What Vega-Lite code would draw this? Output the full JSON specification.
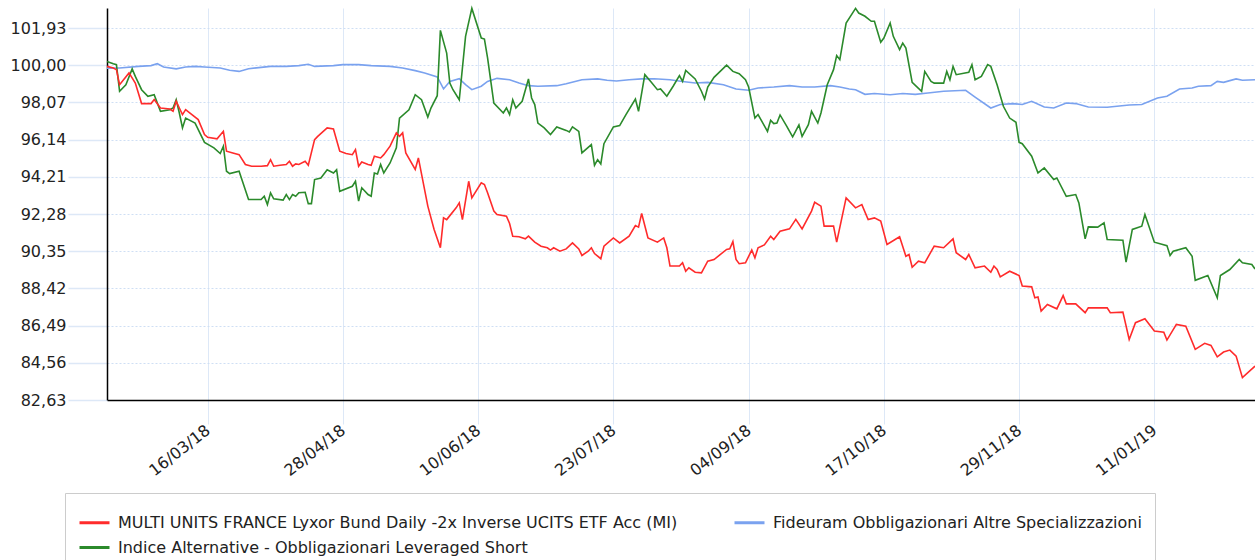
{
"$schema":"https://vega.github.io/schema/vega-lite/v6.json",
"width":1148,"height":392,
"autosize":{"type":"none"},
"padding":{"left":107,"top":8,"right":0,"bottom":160},
"background":"white",
"config":{"view":{"stroke":null},"font":"DejaVu Sans"},
"datasets":{
"r":[
{"d":"2018-02-12","v":99.94},{"d":"2018-02-14","v":99.86},{"d":"2018-02-15","v":99.77},{"d":"2018-02-16","v":98.99},{"d":"2018-02-19","v":99.60},{"d":"2018-02-21","v":99.08},{"d":"2018-02-23","v":98.01},{"d":"2018-02-26","v":98.01},{"d":"2018-02-27","v":98.22},{"d":"2018-03-01","v":97.78},{"d":"2018-03-04","v":97.73},{"d":"2018-03-05","v":97.61},{"d":"2018-03-06","v":98.13},{"d":"2018-03-07","v":97.78},{"d":"2018-03-08","v":97.44},{"d":"2018-03-09","v":97.70},{"d":"2018-03-11","v":97.44},{"d":"2018-03-13","v":97.18},{"d":"2018-03-15","v":96.40},{"d":"2018-03-16","v":96.26},{"d":"2018-03-19","v":96.18},{"d":"2018-03-21","v":96.57},{"d":"2018-03-22","v":95.54},{"d":"2018-03-24","v":95.45},{"d":"2018-03-26","v":95.36},{"d":"2018-03-28","v":94.85},{"d":"2018-03-30","v":94.76},{"d":"2018-04-02","v":94.76},{"d":"2018-04-04","v":94.79},{"d":"2018-04-05","v":95.10},{"d":"2018-04-06","v":94.76},{"d":"2018-04-08","v":94.81},{"d":"2018-04-10","v":94.85},{"d":"2018-04-11","v":95.02},{"d":"2018-04-12","v":94.76},{"d":"2018-04-13","v":94.88},{"d":"2018-04-14","v":94.85},{"d":"2018-04-16","v":95.02},{"d":"2018-04-17","v":94.81},{"d":"2018-04-19","v":96.14},{"d":"2018-04-20","v":96.31},{"d":"2018-04-23","v":96.75},{"d":"2018-04-25","v":96.69},{"d":"2018-04-27","v":95.54},{"d":"2018-04-29","v":95.42},{"d":"2018-05-01","v":95.36},{"d":"2018-05-02","v":95.62},{"d":"2018-05-03","v":94.76},{"d":"2018-05-04","v":94.98},{"d":"2018-05-06","v":94.85},{"d":"2018-05-07","v":94.81},{"d":"2018-05-08","v":95.28},{"d":"2018-05-10","v":95.19},{"d":"2018-05-11","v":95.36},{"d":"2018-05-13","v":95.80},{"d":"2018-05-15","v":96.49},{"d":"2018-05-16","v":96.31},{"d":"2018-05-17","v":96.49},{"d":"2018-05-18","v":95.45},{"d":"2018-05-21","v":94.59},{"d":"2018-05-22","v":95.19},{"d":"2018-05-25","v":92.69},{"d":"2018-05-27","v":91.48},{"d":"2018-05-29","v":90.53},{"d":"2018-05-30","v":92.08},{"d":"2018-05-31","v":91.99},{"d":"2018-06-03","v":92.60},{"d":"2018-06-04","v":92.86},{"d":"2018-06-05","v":91.99},{"d":"2018-06-07","v":93.98},{"d":"2018-06-08","v":93.12},{"d":"2018-06-11","v":93.90},{"d":"2018-06-12","v":93.81},{"d":"2018-06-13","v":93.38},{"d":"2018-06-15","v":92.43},{"d":"2018-06-16","v":92.25},{"d":"2018-06-19","v":92.17},{"d":"2018-06-20","v":91.79},{"d":"2018-06-21","v":91.13},{"d":"2018-06-23","v":91.10},{"d":"2018-06-25","v":90.99},{"d":"2018-06-26","v":91.13},{"d":"2018-06-28","v":90.82},{"d":"2018-06-30","v":90.61},{"d":"2018-07-02","v":90.53},{"d":"2018-07-03","v":90.41},{"d":"2018-07-04","v":90.53},{"d":"2018-07-06","v":90.35},{"d":"2018-07-08","v":90.47},{"d":"2018-07-10","v":90.78},{"d":"2018-07-12","v":90.47},{"d":"2018-07-13","v":90.13},{"d":"2018-07-15","v":90.35},{"d":"2018-07-16","v":90.53},{"d":"2018-07-17","v":90.23},{"d":"2018-07-19","v":89.96},{"d":"2018-07-20","v":90.61},{"d":"2018-07-23","v":91.04},{"d":"2018-07-25","v":90.78},{"d":"2018-07-28","v":91.13},{"d":"2018-07-30","v":91.68},{"d":"2018-07-31","v":91.60},{"d":"2018-08-01","v":92.31},{"d":"2018-08-03","v":91.04},{"d":"2018-08-06","v":90.82},{"d":"2018-08-08","v":91.04},{"d":"2018-08-09","v":90.53},{"d":"2018-08-10","v":89.58},{"d":"2018-08-13","v":89.58},{"d":"2018-08-14","v":89.75},{"d":"2018-08-15","v":89.31},{"d":"2018-08-16","v":89.49},{"d":"2018-08-18","v":89.26},{"d":"2018-08-20","v":89.23},{"d":"2018-08-22","v":89.83},{"d":"2018-08-24","v":89.92},{"d":"2018-08-28","v":90.44},{"d":"2018-08-29","v":90.47},{"d":"2018-08-30","v":90.85},{"d":"2018-08-31","v":89.92},{"d":"2018-09-01","v":89.70},{"d":"2018-09-03","v":89.75},{"d":"2018-09-05","v":90.41},{"d":"2018-09-06","v":90.01},{"d":"2018-09-07","v":90.53},{"d":"2018-09-09","v":90.68},{"d":"2018-09-11","v":91.13},{"d":"2018-09-12","v":90.96},{"d":"2018-09-14","v":91.39},{"d":"2018-09-17","v":91.51},{"d":"2018-09-19","v":92.00},{"d":"2018-09-21","v":91.51},{"d":"2018-09-24","v":92.43},{"d":"2018-09-25","v":92.89},{"d":"2018-09-27","v":92.69},{"d":"2018-09-28","v":91.65},{"d":"2018-10-01","v":91.65},{"d":"2018-10-02","v":90.82},{"d":"2018-10-05","v":93.12},{"d":"2018-10-08","v":92.60},{"d":"2018-10-10","v":92.77},{"d":"2018-10-12","v":91.99},{"d":"2018-10-14","v":92.08},{"d":"2018-10-16","v":91.91},{"d":"2018-10-18","v":90.70},{"d":"2018-10-22","v":91.10},{"d":"2018-10-24","v":90.09},{"d":"2018-10-25","v":90.18},{"d":"2018-10-26","v":89.52},{"d":"2018-10-28","v":89.83},{"d":"2018-10-30","v":89.75},{"d":"2018-11-02","v":90.61},{"d":"2018-11-05","v":90.53},{"d":"2018-11-08","v":90.99},{"d":"2018-11-09","v":90.27},{"d":"2018-11-12","v":89.92},{"d":"2018-11-13","v":90.18},{"d":"2018-11-15","v":89.49},{"d":"2018-11-18","v":89.58},{"d":"2018-11-20","v":89.26},{"d":"2018-11-21","v":89.58},{"d":"2018-11-22","v":89.40},{"d":"2018-11-23","v":89.02},{"d":"2018-11-26","v":89.31},{"d":"2018-11-29","v":89.09},{"d":"2018-11-30","v":88.54},{"d":"2018-12-03","v":88.50},{"d":"2018-12-04","v":87.93},{"d":"2018-12-05","v":87.97},{"d":"2018-12-06","v":87.24},{"d":"2018-12-08","v":87.59},{"d":"2018-12-11","v":87.36},{"d":"2018-12-13","v":88.05},{"d":"2018-12-14","v":87.62},{"d":"2018-12-17","v":87.62},{"d":"2018-12-20","v":87.16},{"d":"2018-12-21","v":87.41},{"d":"2018-12-27","v":87.41},{"d":"2018-12-28","v":87.16},{"d":"2019-01-01","v":87.19},{"d":"2019-01-03","v":85.77},{"d":"2019-01-05","v":86.64},{"d":"2019-01-08","v":86.85},{"d":"2019-01-11","v":86.21},{"d":"2019-01-14","v":86.15},{"d":"2019-01-15","v":85.74},{"d":"2019-01-18","v":86.55},{"d":"2019-01-21","v":86.46},{"d":"2019-01-24","v":85.26},{"d":"2019-01-27","v":85.57},{"d":"2019-01-29","v":85.46},{"d":"2019-01-31","v":84.87},{"d":"2019-02-02","v":85.12},{"d":"2019-02-04","v":85.22},{"d":"2019-02-06","v":84.91},{"d":"2019-02-08","v":83.79},{"d":"2019-02-12","v":84.39}],
"g":[
{"d":"2018-02-12","v":100.20},{"d":"2018-02-14","v":100.08},{"d":"2018-02-15","v":100.03},{"d":"2018-02-16","v":98.65},{"d":"2018-02-18","v":98.99},{"d":"2018-02-20","v":99.81},{"d":"2018-02-21","v":99.42},{"d":"2018-02-23","v":98.73},{"d":"2018-02-25","v":98.39},{"d":"2018-02-27","v":98.47},{"d":"2018-03-01","v":97.61},{"d":"2018-03-04","v":97.69},{"d":"2018-03-05","v":97.78},{"d":"2018-03-06","v":98.21},{"d":"2018-03-07","v":97.52},{"d":"2018-03-08","v":96.75},{"d":"2018-03-09","v":97.26},{"d":"2018-03-12","v":97.00},{"d":"2018-03-15","v":96.00},{"d":"2018-03-18","v":95.71},{"d":"2018-03-20","v":95.42},{"d":"2018-03-21","v":95.80},{"d":"2018-03-22","v":94.50},{"d":"2018-03-23","v":94.38},{"d":"2018-03-26","v":94.50},{"d":"2018-03-29","v":93.03},{"d":"2018-04-02","v":93.03},{"d":"2018-04-03","v":93.20},{"d":"2018-04-04","v":92.77},{"d":"2018-04-05","v":93.38},{"d":"2018-04-06","v":93.07},{"d":"2018-04-09","v":93.00},{"d":"2018-04-10","v":93.29},{"d":"2018-04-11","v":93.03},{"d":"2018-04-12","v":93.29},{"d":"2018-04-13","v":93.20},{"d":"2018-04-14","v":93.38},{"d":"2018-04-16","v":93.41},{"d":"2018-04-17","v":92.82},{"d":"2018-04-18","v":92.82},{"d":"2018-04-19","v":94.07},{"d":"2018-04-21","v":94.15},{"d":"2018-04-23","v":94.58},{"d":"2018-04-25","v":94.41},{"d":"2018-04-26","v":94.58},{"d":"2018-04-27","v":93.46},{"d":"2018-05-01","v":93.72},{"d":"2018-05-02","v":93.98},{"d":"2018-05-03","v":92.95},{"d":"2018-05-04","v":93.64},{"d":"2018-05-06","v":93.29},{"d":"2018-05-07","v":93.20},{"d":"2018-05-08","v":94.41},{"d":"2018-05-09","v":94.36},{"d":"2018-05-10","v":94.85},{"d":"2018-05-11","v":94.41},{"d":"2018-05-13","v":94.93},{"d":"2018-05-15","v":95.71},{"d":"2018-05-16","v":97.26},{"d":"2018-05-19","v":97.69},{"d":"2018-05-21","v":98.47},{"d":"2018-05-23","v":98.21},{"d":"2018-05-25","v":97.31},{"d":"2018-05-26","v":97.78},{"d":"2018-05-28","v":98.42},{"d":"2018-05-29","v":101.81},{"d":"2018-05-31","v":100.63},{"d":"2018-06-01","v":99.08},{"d":"2018-06-02","v":98.73},{"d":"2018-06-04","v":98.21},{"d":"2018-06-06","v":101.50},{"d":"2018-06-08","v":102.95},{"d":"2018-06-11","v":101.41},{"d":"2018-06-12","v":101.36},{"d":"2018-06-13","v":100.38},{"d":"2018-06-15","v":98.04},{"d":"2018-06-18","v":97.52},{"d":"2018-06-19","v":97.78},{"d":"2018-06-20","v":97.44},{"d":"2018-06-21","v":98.21},{"d":"2018-06-22","v":97.78},{"d":"2018-06-24","v":98.13},{"d":"2018-06-26","v":99.29},{"d":"2018-06-27","v":98.30},{"d":"2018-06-28","v":97.96},{"d":"2018-06-29","v":97.00},{"d":"2018-07-01","v":96.75},{"d":"2018-07-03","v":96.40},{"d":"2018-07-05","v":96.80},{"d":"2018-07-08","v":96.62},{"d":"2018-07-09","v":96.54},{"d":"2018-07-10","v":96.80},{"d":"2018-07-12","v":96.57},{"d":"2018-07-13","v":95.45},{"d":"2018-07-16","v":95.88},{"d":"2018-07-17","v":94.81},{"d":"2018-07-18","v":95.10},{"d":"2018-07-19","v":94.88},{"d":"2018-07-20","v":95.93},{"d":"2018-07-23","v":96.80},{"d":"2018-07-25","v":96.87},{"d":"2018-07-27","v":97.44},{"d":"2018-07-30","v":98.25},{"d":"2018-07-31","v":97.61},{"d":"2018-08-02","v":99.51},{"d":"2018-08-04","v":99.13},{"d":"2018-08-06","v":98.73},{"d":"2018-08-07","v":98.77},{"d":"2018-08-09","v":98.39},{"d":"2018-08-11","v":98.91},{"d":"2018-08-13","v":99.46},{"d":"2018-08-14","v":99.16},{"d":"2018-08-15","v":99.73},{"d":"2018-08-18","v":99.29},{"d":"2018-08-20","v":98.65},{"d":"2018-08-21","v":98.25},{"d":"2018-08-22","v":98.87},{"d":"2018-08-24","v":99.37},{"d":"2018-08-28","v":100.00},{"d":"2018-08-30","v":99.68},{"d":"2018-09-01","v":99.56},{"d":"2018-09-03","v":99.25},{"d":"2018-09-04","v":98.87},{"d":"2018-09-06","v":97.26},{"d":"2018-09-07","v":97.44},{"d":"2018-09-10","v":96.57},{"d":"2018-09-11","v":97.14},{"d":"2018-09-12","v":96.97},{"d":"2018-09-13","v":97.00},{"d":"2018-09-14","v":97.42},{"d":"2018-09-16","v":96.87},{"d":"2018-09-18","v":96.28},{"d":"2018-09-20","v":96.90},{"d":"2018-09-21","v":96.31},{"d":"2018-09-23","v":96.92},{"d":"2018-09-24","v":97.61},{"d":"2018-09-26","v":97.00},{"d":"2018-09-27","v":97.52},{"d":"2018-09-29","v":98.99},{"d":"2018-10-01","v":99.77},{"d":"2018-10-02","v":100.50},{"d":"2018-10-03","v":100.29},{"d":"2018-10-05","v":102.19},{"d":"2018-10-08","v":102.95},{"d":"2018-10-09","v":102.71},{"d":"2018-10-11","v":102.54},{"d":"2018-10-13","v":102.28},{"d":"2018-10-14","v":102.28},{"d":"2018-10-16","v":101.19},{"d":"2018-10-17","v":101.41},{"d":"2018-10-19","v":102.19},{"d":"2018-10-20","v":101.50},{"d":"2018-10-22","v":100.81},{"d":"2018-10-23","v":101.15},{"d":"2018-10-24","v":100.89},{"d":"2018-10-26","v":99.11},{"d":"2018-10-29","v":98.65},{"d":"2018-10-30","v":99.68},{"d":"2018-11-01","v":99.16},{"d":"2018-11-02","v":99.07},{"d":"2018-11-05","v":99.07},{"d":"2018-11-06","v":99.68},{"d":"2018-11-07","v":99.25},{"d":"2018-11-08","v":99.94},{"d":"2018-11-09","v":99.51},{"d":"2018-11-13","v":99.63},{"d":"2018-11-14","v":100.03},{"d":"2018-11-15","v":99.25},{"d":"2018-11-17","v":99.42},{"d":"2018-11-19","v":100.03},{"d":"2018-11-20","v":99.94},{"d":"2018-11-22","v":98.99},{"d":"2018-11-24","v":97.87},{"d":"2018-11-26","v":97.26},{"d":"2018-11-28","v":97.04},{"d":"2018-11-29","v":96.00},{"d":"2018-11-30","v":95.93},{"d":"2018-12-03","v":95.28},{"d":"2018-12-05","v":94.41},{"d":"2018-12-07","v":94.67},{"d":"2018-12-10","v":94.07},{"d":"2018-12-11","v":94.15},{"d":"2018-12-14","v":93.20},{"d":"2018-12-17","v":93.29},{"d":"2018-12-18","v":92.86},{"d":"2018-12-20","v":90.99},{"d":"2018-12-21","v":91.61},{"d":"2018-12-24","v":91.60},{"d":"2018-12-26","v":91.82},{"d":"2018-12-27","v":90.96},{"d":"2019-01-01","v":90.92},{"d":"2019-01-02","v":89.78},{"d":"2019-01-04","v":91.48},{"d":"2019-01-07","v":91.65},{"d":"2019-01-08","v":92.25},{"d":"2019-01-11","v":90.82},{"d":"2019-01-15","v":90.64},{"d":"2019-01-16","v":90.13},{"d":"2019-01-17","v":90.35},{"d":"2019-01-21","v":90.53},{"d":"2019-01-23","v":90.09},{"d":"2019-01-24","v":88.84},{"d":"2019-01-28","v":89.09},{"d":"2019-01-31","v":87.93},{"d":"2019-02-01","v":89.09},{"d":"2019-02-04","v":89.40},{"d":"2019-02-07","v":89.92},{"d":"2019-02-08","v":89.75},{"d":"2019-02-11","v":89.66},{"d":"2019-02-12","v":89.43}],
"b":[
{"d":"2018-02-12","v":99.85},{"d":"2018-02-16","v":99.86},{"d":"2018-02-22","v":99.94},{"d":"2018-02-26","v":99.98},{"d":"2018-02-28","v":100.08},{"d":"2018-03-02","v":99.91},{"d":"2018-03-06","v":99.81},{"d":"2018-03-09","v":99.91},{"d":"2018-03-12","v":99.94},{"d":"2018-03-15","v":99.91},{"d":"2018-03-20","v":99.86},{"d":"2018-03-23","v":99.74},{"d":"2018-03-26","v":99.68},{"d":"2018-03-29","v":99.82},{"d":"2018-04-02","v":99.89},{"d":"2018-04-05","v":99.94},{"d":"2018-04-10","v":99.94},{"d":"2018-04-14","v":99.98},{"d":"2018-04-17","v":100.05},{"d":"2018-04-19","v":99.94},{"d":"2018-04-25","v":99.98},{"d":"2018-04-28","v":100.03},{"d":"2018-05-03","v":100.03},{"d":"2018-05-07","v":99.98},{"d":"2018-05-13","v":99.94},{"d":"2018-05-17","v":99.86},{"d":"2018-05-21","v":99.72},{"d":"2018-05-24","v":99.60},{"d":"2018-05-28","v":99.39},{"d":"2018-05-30","v":98.77},{"d":"2018-06-01","v":99.16},{"d":"2018-06-04","v":99.30},{"d":"2018-06-06","v":98.99},{"d":"2018-06-08","v":98.73},{"d":"2018-06-11","v":98.91},{"d":"2018-06-13","v":99.16},{"d":"2018-06-16","v":99.32},{"d":"2018-06-20","v":99.25},{"d":"2018-06-23","v":99.08},{"d":"2018-06-26","v":98.94},{"d":"2018-06-29","v":98.91},{"d":"2018-07-05","v":98.94},{"d":"2018-07-08","v":99.04},{"d":"2018-07-13","v":99.25},{"d":"2018-07-18","v":99.29},{"d":"2018-07-21","v":99.22},{"d":"2018-07-24","v":99.18},{"d":"2018-07-28","v":99.25},{"d":"2018-08-01","v":99.29},{"d":"2018-08-05","v":99.30},{"d":"2018-08-10","v":99.25},{"d":"2018-08-14","v":99.16},{"d":"2018-08-18","v":99.08},{"d":"2018-08-22","v":99.11},{"d":"2018-08-27","v":98.99},{"d":"2018-08-31","v":98.77},{"d":"2018-09-04","v":98.70},{"d":"2018-09-07","v":98.82},{"d":"2018-09-12","v":98.87},{"d":"2018-09-17","v":98.94},{"d":"2018-09-21","v":98.87},{"d":"2018-09-25","v":98.87},{"d":"2018-09-30","v":98.94},{"d":"2018-10-03","v":98.87},{"d":"2018-10-06","v":98.77},{"d":"2018-10-08","v":98.73},{"d":"2018-10-11","v":98.49},{"d":"2018-10-14","v":98.53},{"d":"2018-10-19","v":98.47},{"d":"2018-10-23","v":98.53},{"d":"2018-10-27","v":98.49},{"d":"2018-10-31","v":98.56},{"d":"2018-11-05","v":98.65},{"d":"2018-11-12","v":98.70},{"d":"2018-11-15","v":98.35},{"d":"2018-11-20","v":97.78},{"d":"2018-11-23","v":97.96},{"d":"2018-11-27","v":98.01},{"d":"2018-11-30","v":97.96},{"d":"2018-12-03","v":98.13},{"d":"2018-12-07","v":97.83},{"d":"2018-12-10","v":97.78},{"d":"2018-12-14","v":98.04},{"d":"2018-12-17","v":98.01},{"d":"2018-12-21","v":97.83},{"d":"2018-12-27","v":97.82},{"d":"2019-01-03","v":97.94},{"d":"2019-01-07","v":97.96},{"d":"2019-01-12","v":98.30},{"d":"2019-01-15","v":98.39},{"d":"2019-01-19","v":98.77},{"d":"2019-01-23","v":98.82},{"d":"2019-01-25","v":98.91},{"d":"2019-01-29","v":98.94},{"d":"2019-01-31","v":99.16},{"d":"2019-02-02","v":99.11},{"d":"2019-02-06","v":99.29},{"d":"2019-02-08","v":99.22},{"d":"2019-02-12","v":99.25}]
},
"encoding":{
"x":{"field":"d","type":"temporal",
"scale":{"type":"utc","domain":[{"year":2018,"month":2,"date":12,"utc":true},{"year":2019,"month":2,"date":12,"utc":true}]},
"axis":{"title":null,"values":[{"year":2018,"month":3,"date":16,"utc":true},{"year":2018,"month":4,"date":28,"utc":true},{"year":2018,"month":6,"date":10,"utc":true},{"year":2018,"month":7,"date":23,"utc":true},{"year":2018,"month":9,"date":4,"utc":true},{"year":2018,"month":10,"date":17,"utc":true},{"year":2018,"month":11,"date":29,"utc":true},{"year":2019,"month":1,"date":11,"utc":true}],
"labelExpr":"utcFormat(datum.value, '%d/%m/%y')","labelAngle":-38,"labelAlign":"right","labelBaseline":"middle",
"labelFont":"DejaVu Sans","labelFontSize":16,"labelColor":"#222","labelPadding":4,"labelOverlap":false,"labelFlush":false,
"grid":true,"gridColor":"#dde8f7","gridWidth":1,
"ticks":true,"tickSize":24,"tickColor":"#dde8f7","tickWidth":1,
"domain":true,"domainColor":"#000","domainWidth":1.5}},
"y":{"field":"v","type":"quantitative",
"scale":{"domain":[82.63,102.97],"nice":false,"zero":false},
"axis":{"title":null,"values":[82.63,84.56,86.49,88.42,90.35,92.28,94.21,96.14,98.07,100.00,101.93],
"labelExpr":"replace(format(datum.value, '.2f'), '.', ',')",
"labelFont":"DejaVu Sans","labelFontSize":16,"labelColor":"#222","labelPadding":2,
"grid":true,"gridColor":"#cfdff4","gridDash":[2,2],"gridWidth":1,
"ticks":true,"tickSize":39,"tickColor":"#dde8f7","tickWidth":1.5,
"domain":true,"domainColor":"#000","domainWidth":1.5}},
"color":{"scale":{"domain":["r","b","g"],"range":["#ff2b2b","#7aa2ef","#2b8a2b"]},
"legend":{"title":null,"orient":"none","legendX":-42,"legendY":485,"direction":"horizontal","columns":2,
"symbolType":"stroke","symbolSize":900,"symbolStrokeWidth":3,
"labelFont":"DejaVu Sans","labelFontSize":16,"labelColor":"#222","labelOffset":7,"labelLimit":700,
"columnPadding":50,"rowPadding":-7,"padding":13,"strokeColor":"#cccccc","fillColor":"white",
"labelExpr":"datum.label == 'r' ? 'MULTI UNITS FRANCE Lyxor Bund Daily -2x Inverse UCITS ETF Acc (MI)' : datum.label == 'b' ? 'Fideuram Obbligazionari Altre Specializzazioni' : 'Indice Alternative - Obbligazionari Leveraged Short'"}}
},
"layer":[
{"data":{"name":"b"},"mark":{"type":"line","strokeWidth":1.6},"encoding":{"color":{"datum":"b"}}},
{"data":{"name":"g"},"mark":{"type":"line","strokeWidth":1.6},"encoding":{"color":{"datum":"g"}}},
{"data":{"name":"r"},"mark":{"type":"line","strokeWidth":1.6},"encoding":{"color":{"datum":"r"}}}
]
}
